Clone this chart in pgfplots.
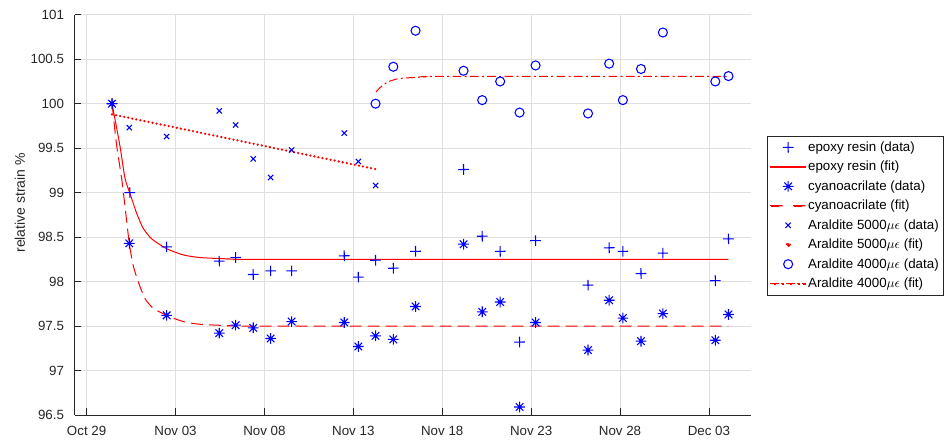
\documentclass[border=0pt]{standalone}
\usepackage{pgfplots}
\pgfplotsset{compat=1.18}
\usepackage{fontspec}
\setmainfont{Liberation Sans}

\definecolor{axgray}{RGB}{38,38,38}
\definecolor{gridgray}{RGB}{223,223,223}

% matlab style asterisk (+ and x on top of each other)
\pgfdeclareplotmark{ast8}{%
  \pgfpathmoveto{\pgfqpoint{-\pgfplotmarksize}{0pt}}%
  \pgfpathlineto{\pgfqpoint{\pgfplotmarksize}{0pt}}%
  \pgfpathmoveto{\pgfqpoint{0pt}{-\pgfplotmarksize}}%
  \pgfpathlineto{\pgfqpoint{0pt}{\pgfplotmarksize}}%
  \pgfpathmoveto{\pgfqpoint{-0.707\pgfplotmarksize}{-0.707\pgfplotmarksize}}%
  \pgfpathlineto{\pgfqpoint{0.707\pgfplotmarksize}{0.707\pgfplotmarksize}}%
  \pgfpathmoveto{\pgfqpoint{-0.707\pgfplotmarksize}{0.707\pgfplotmarksize}}%
  \pgfpathlineto{\pgfqpoint{0.707\pgfplotmarksize}{-0.707\pgfplotmarksize}}%
  \pgfusepathqstroke}

% plus, very slightly tilted
\pgfdeclareplotmark{pls}{%
  \pgfpathmoveto{\pgfqpoint{-\pgfplotmarksize}{-0.05pt}}%
  \pgfpathlineto{\pgfqpoint{\pgfplotmarksize}{0.05pt}}%
  \pgfpathmoveto{\pgfqpoint{0.05pt}{-\pgfplotmarksize}}%
  \pgfpathlineto{\pgfqpoint{-0.05pt}{\pgfplotmarksize}}%
  \pgfusepathqstroke}

\newcommand\axfont{\fontsize{10}{12}\selectfont\addfontfeature{Color=262626}}

\pgfplotsset{
  lgline/.style={legend image code/.code={\fill[fill=red] (0pt,-0.375pt) rectangle (26pt,0.375pt);}},
  lgmark/.style={legend image code/.code={\draw[##1] plot coordinates {(13pt,0pt)};}},
  dat/.style={only marks, draw=blue, fill=blue, mark options={draw=blue, fill=blue, solid, line width=0.8pt}, lgmark},
  fit/.style={draw=red, line width=0.75pt, no marks, lgline},
}

\begin{document}
\begin{tikzpicture}
\begin{axis}[
    name=ax,
    scale only axis,
    width=507pt, height=300.2pt,
    xmin=-0.67, xmax=37.35,
    ymin=96.5, ymax=101,
    axis x line*=bottom, axis y line*=left,
    axis line style={draw=axgray, line width=0.6pt},
    tick align=inside, major tick length=5pt,
    tick style={draw=axgray, line width=0.6pt},
    xtick={0,5,10,15,20,25,30,35},
    xticklabels={Oct 29,Nov 03,Nov 08,Nov 13,Nov 18,Nov 23,Nov 28,Dec 03},
    ytick={96.5,97,97.5,98,98.5,99,99.5,100,100.5,101},
    grid=major,
    major grid style={draw=gridgray, line width=0.6pt},
    ticklabel style={font=\axfont},
    /pgf/number format/assume math mode=true,
    yticklabel style={xshift=-4.5pt},
    xticklabel style={yshift=-5pt},
    ylabel={relative strain \%},
    ylabel style={at={(axis description cs:-0.081,0.53)}, anchor=center,
        font=\fontsize{10.5}{12}\selectfont\addfontfeature{Color=262626}},
    legend cell align=left,
    legend style={at={(axis description cs:1.0246,0.6977)}, anchor=north west,
        draw=axgray, line width=0.5pt, fill=white,
        font=\fontsize{10}{12}\selectfont,
        inner xsep=2pt, inner ysep=1.2pt,
        nodes={inner sep=1.6pt, text height=8.6pt, text depth=2.8pt}},
]

% epoxy resin
\addplot[dat, mark=pls, mark size=4pt] coordinates {
    (1.43,100.0) (2.43,99.0) (4.50,98.39) (7.46,98.23) (8.38,98.27)
    (9.37,98.08) (10.35,98.12) (11.53,98.12) (14.49,98.29) (15.28,98.05)
    (16.25,98.24) (17.25,98.15) (18.5,98.34) (21.2,99.26) (22.25,98.51)
    (23.26,98.34) (24.35,97.32) (25.25,98.46) (28.2,97.96) (29.39,98.38)
    (30.16,98.34) (31.18,98.09) (32.41,98.32) (35.36,98.01) (36.1,98.48)
};
\addlegendentry{epoxy resin (data)}
\addplot[fit, smooth, tension=0.4] coordinates {
    (1.43,100.0) (1.87,99.53) (2.16,99.16) (2.44,98.99) (2.81,98.77)
    (3.18,98.60) (3.66,98.48) (4.50,98.37) (5.43,98.30) (6.37,98.27)
    (8,98.255) (10,98.25) (36.1,98.25)
};
\addlegendentry{epoxy resin (fit)}

% cyanoacrilate
\addplot[dat, mark=ast8, mark size=4pt] coordinates {
    (1.43,100.0) (2.40,98.43) (4.50,97.62) (7.46,97.42) (8.38,97.51)
    (9.37,97.48) (10.35,97.36) (11.53,97.55) (14.49,97.54) (15.28,97.27)
    (16.25,97.39) (17.25,97.35) (18.5,97.72) (21.2,98.42) (22.25,97.66)
    (23.26,97.77) (24.35,96.59) (25.25,97.54) (28.2,97.23) (29.39,97.79)
    (30.16,97.59) (31.18,97.33) (32.41,97.64) (35.36,97.34) (36.1,97.63)
};
\addlegendentry{cyanoacrilate (data)}
\addplot[fit, smooth, tension=0.4, dash pattern=on 9pt off 4.5pt,
    legend image code/.code={\fill[fill=red] (0pt,-0.375pt) rectangle (9pt,0.375pt)
        (17pt,-0.375pt) rectangle (26pt,0.375pt);}] coordinates {
    (1.43,100.0) (1.69,99.53) (1.97,99.16) (2.15,98.86) (2.40,98.43)
    (2.62,98.18) (2.90,98.00) (3.28,97.81) (3.75,97.70) (4.50,97.62)
    (5.43,97.55) (6.37,97.52) (8,97.505) (10,97.5) (36.1,97.5)
};
\addlegendentry{cyanoacrilate (fit)}

% Araldite 5000
\addplot[dat, mark=x, mark size=2.8pt] coordinates {
    (1.43,100.0) (2.40,99.73) (4.50,99.63) (7.46,99.92) (8.38,99.76)
    (9.37,99.38) (10.35,99.17) (11.53,99.48) (14.49,99.67) (15.28,99.35)
    (16.25,99.08)
};
\addlegendentry{Araldite 5000$\mu\epsilon$ (data)}
\addplot[draw=red, no marks, line width=1.9pt, line cap=round, dash pattern=on 0pt off 3.1pt,
    legend image code/.code={\fill[fill=red] (13pt,0pt) circle (1.3pt);}] coordinates {
    (1.43,99.88) (16.36,99.26)
};
\addlegendentry{Araldite 5000$\mu\epsilon$ (fit)}

% Araldite 4000
\addplot[dat, mark=o, mark size=3.4pt] coordinates {
    (16.25,100.0) (17.25,100.415) (18.5,100.82) (21.2,100.37) (22.25,100.04)
    (23.26,100.25) (24.35,99.90) (25.25,100.43) (28.2,99.89) (29.39,100.45)
    (30.16,100.04) (31.18,100.39) (32.41,100.80) (35.36,100.25) (36.1,100.31)
};
\addlegendentry{Araldite 4000$\mu\epsilon$ (data)}
\addplot[fit, smooth, tension=0.4, dash pattern=on 6.5pt off 2.5pt on 1.5pt off 2.5pt,
    legend image code/.code={\fill[fill=red] (0pt,-0.375pt) rectangle (5.5pt,0.375pt)
        (8pt,-0.375pt) rectangle (9.5pt,0.375pt)
        (12pt,-0.375pt) rectangle (17.5pt,0.375pt)
        (20pt,-0.375pt) rectangle (21.5pt,0.375pt)
        (24pt,-0.375pt) rectangle (26pt,0.375pt);}] coordinates {
    (16.27,100.13) (16.5,100.18) (16.75,100.22) (17.0,100.25) (17.5,100.28)
    (18,100.29) (19,100.30) (20,100.307) (36.1,100.307)
};
\addlegendentry{Araldite 4000$\mu\epsilon$ (fit)}

\end{axis}
\pgfresetboundingbox
\path[use as bounding box] ([xshift=-56.03pt,yshift=-19.5pt]ax.south west) rectangle ++(712.5pt,330.75pt);
\end{tikzpicture}
\end{document}
